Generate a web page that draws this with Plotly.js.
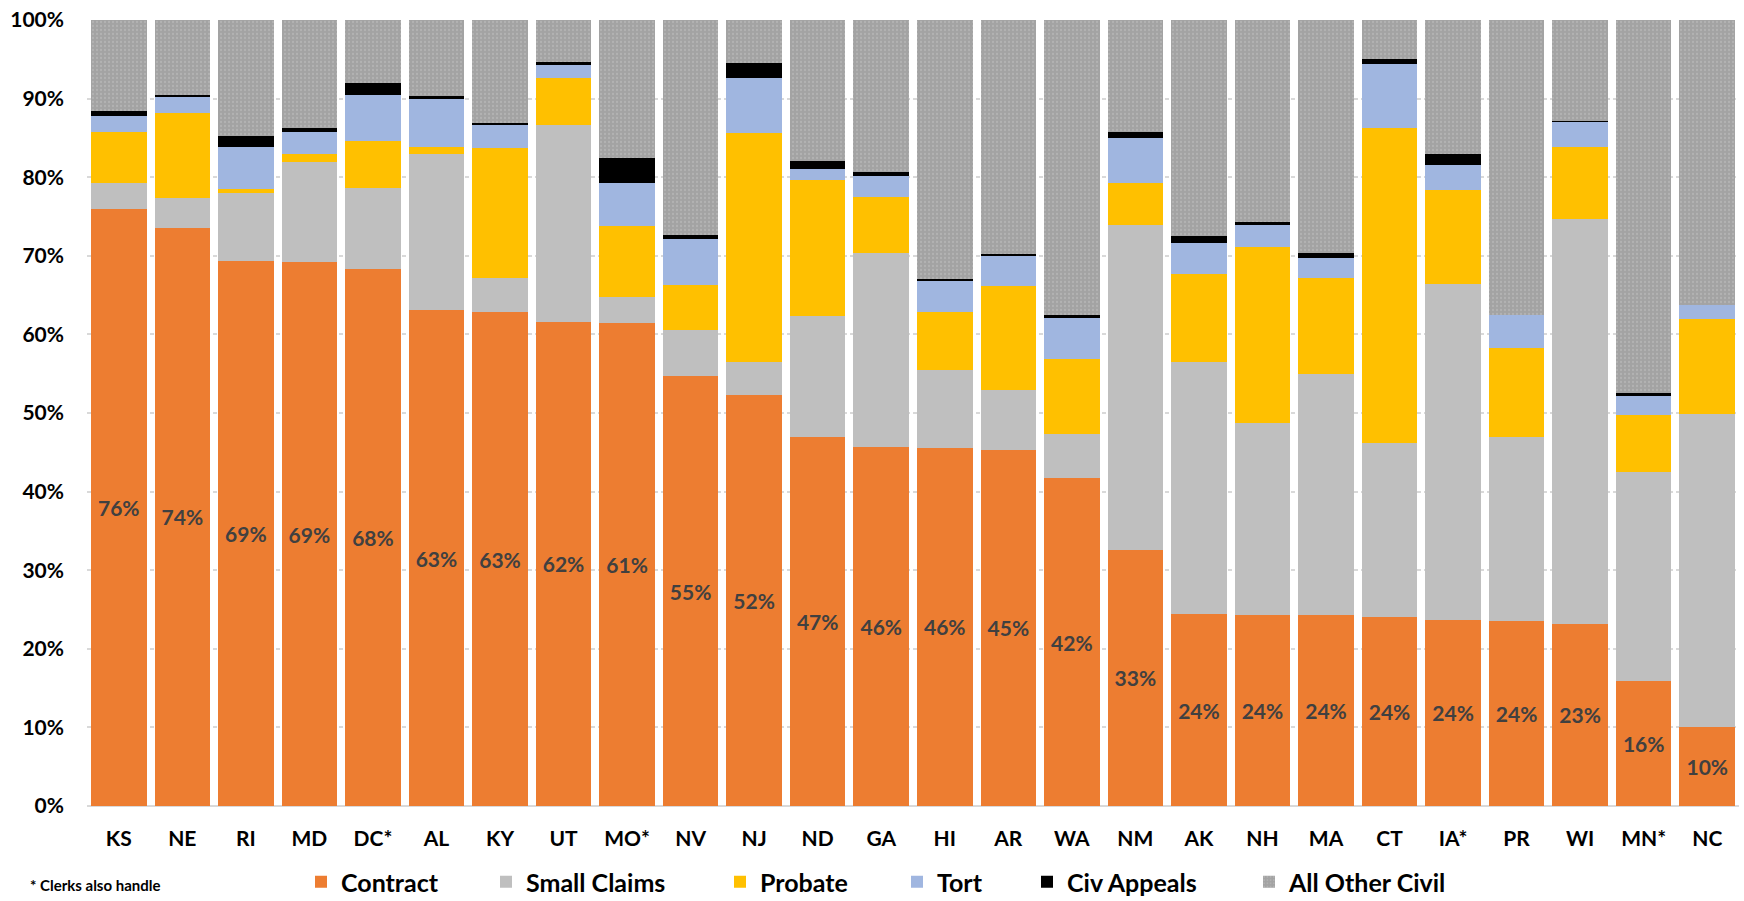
<!DOCTYPE html>
<html>
<head>
<meta charset="utf-8">
<script src="https://cdn.plot.ly/plotly-3.0.1.min.js"></script>
<style>html,body{margin:0;padding:0;background:#fff;}#chart{width:1744px;height:901px;}</style>
</head>
<body>
<div id="chart"></div>
<script>
const states = ["KS","NE","RI","MD","DC*","AL","KY","UT","MO*","NV","NJ","ND","GA","HI","AR","WA","NM","AK","NH","MA","CT","IA*","PR","WI","MN*","NC"];
const contract    = [75.9,73.6,69.4,69.2,68.3,63.1,62.8,61.6,61.4,54.7,52.3,47.0,45.7,45.6,45.3,41.7,32.6,24.4,24.3,24.3,24.0,23.7,23.6,23.2,15.9,10.0];
const smallClaims = [3.4,3.7,8.6,12.7,10.3,19.8,4.4,25.1,3.3,5.9,4.2,15.3,24.6,9.9,7.6,5.6,41.3,32.1,24.4,30.7,22.2,42.7,23.4,51.5,26.6,39.9];
const probate     = [6.4,10.9,0.5,1.0,6.0,1.0,16.5,5.9,9.1,5.7,29.1,17.4,7.2,7.3,13.2,9.6,5.4,11.2,22.4,12.2,40.1,12.0,11.3,9.2,7.3,12.1];
const tort        = [2.1,2.0,5.3,2.8,5.8,6.0,2.9,1.7,5.4,5.9,7.0,1.3,2.7,4.0,3.9,5.2,5.7,3.9,2.8,2.5,8.1,3.1,4.2,3.1,2.3,1.7];
const civAppeals  = [0.6,0.2,1.5,0.5,1.6,0.4,0.3,0.4,3.2,0.5,1.9,1.1,0.4,0.2,0.2,0.4,0.8,0.9,0.4,0.6,0.7,1.4,0.0,0.1,0.5,0.0];
const allOther    = [11.6,9.6,14.7,13.8,8.0,9.7,13.1,5.3,17.6,27.3,5.5,17.9,19.4,33.0,29.8,37.5,14.2,27.5,25.7,29.7,4.9,17.1,37.5,12.9,47.4,36.3];
const seriesNames = ["Contract","Small Claims","Probate","Tort","Civ Appeals","All Other Civil"];
const yTickVals   = [0,10,20,30,40,50,60,70,80,90,100];
const yTickText   = ["0%","10%","20%","30%","40%","50%","60%","70%","80%","90%","100%"];
const footnote    = "* Clerks also handle";

const FONT = "Lato, 'Liberation Sans', Arial, sans-serif";
const colors = ["#ed7d31","#bfbfbf","#ffc000","#a0b6e0","#000000","#a5a5a5"];
const values = [contract, smallClaims, probate, tort, civAppeals, allOther];
// left pixel of each legend entry (layout only)
const legendLeftPx = [301, 486, 720, 897, 1027, 1249];
const W = 1744, H = 901;
const plotL = 87, plotW = 1652, plotT = 20, plotH = 786;

const legendKeys = ["legend","legend2","legend3","legend4","legend5","legend6"];

const traces = seriesNames.map((name, i) => {
  const t = {
    type: "bar", name: name, x: states, y: values[i],
    marker: {color: colors[i], line: {width: 0}},
    legend: legendKeys[i],
    hoverinfo: "x+y+name"
  };
  if (i === 0) {
    t.text = contract.map(v => Math.round(v) + "%");
    t.textposition = "inside";
    t.insidetextanchor = "middle";
    t.textangle = 0;
    t.constraintext = "none";
    t.textfont = {family: FONT, size: 21, color: "#404040", weight: "bold"};
  }
  if (i === 5) {
    t.marker.pattern = {shape: ".", bgcolor: "#a3a3a3", fgcolor: "#b3b3b3", size: 4, solidity: 0.25};
  }
  return t;
});

const layout = {
  width: W, height: H,
  margin: {l: plotL, r: W - plotL - plotW, t: plotT, b: H - plotT - plotH, autoexpand: false},
  paper_bgcolor: "#ffffff", plot_bgcolor: "#ffffff",
  barmode: "stack", bargap: 0.126,
  showlegend: true,
  font: {family: FONT, color: "#000000"},
  xaxis: {
    type: "category", showgrid: false, zeroline: false, showline: false,
    ticks: "", ticklabelstandoff: 18,
    tickfont: {family: FONT, size: 21, color: "#000000", weight: "bold"},
    fixedrange: true
  },
  yaxis: {
    range: [0, 100], tickvals: yTickVals, ticktext: yTickText,
    showgrid: true, gridcolor: "#d9d9d9", gridwidth: 2, griddash: "4px,3px",
    zeroline: true, zerolinecolor: "#d9d9d9", zerolinewidth: 2,
    showline: false, ticks: "", ticklabelstandoff: 22,
    tickfont: {family: FONT, size: 21, color: "#000000", weight: "bold"},
    fixedrange: true
  },
  annotations: [{
    text: footnote, xref: "paper", yref: "paper",
    x: (28 - plotL) / plotW, y: -(874 - plotT - plotH) / plotH,
    xanchor: "left", yanchor: "top",
    showarrow: false, font: {family: FONT, size: 15, color: "#000000", weight: "bold"}
  }]
};
legendKeys.forEach((k, i) => {
  layout[k] = {
    orientation: "h", xanchor: "left", yanchor: "middle",
    xref: "container", yref: "container",
    x: legendLeftPx[i] / W,
    y: 1 - 882 / H,
    bgcolor: "rgba(0,0,0,0)", borderwidth: 0,
    font: {family: FONT, size: 25, color: "#000000", weight: "bold"},
    itemwidth: 30
  };
});

Plotly.newPlot("chart", traces, layout, {displayModeBar: false, staticPlot: true});
</script>
</body>
</html>
